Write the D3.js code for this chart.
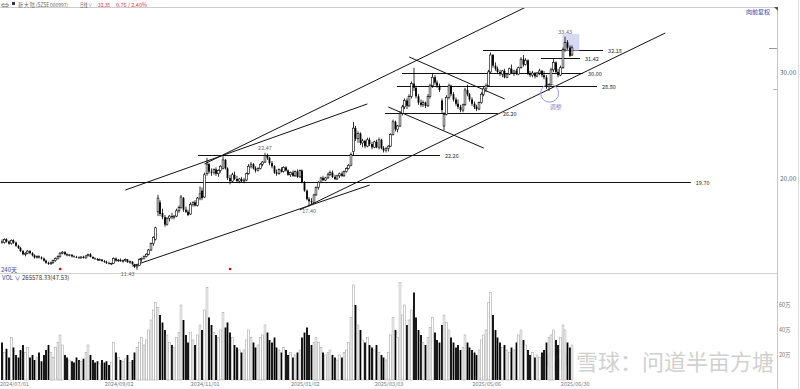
<!DOCTYPE html>
<html><head><meta charset="utf-8">
<script src="https://cdn.jsdelivr.net/npm/d3@7"></script>
<style>
body{margin:0;background:#fff;}
svg{display:block;font-family:"Noto Sans CJK SC","Noto Sans",sans-serif;}
</style></head>
<body><svg id="c" width="800" height="389"></svg>
<script>
// ---- data ----
const ohlc = [
[14.1,14.3,13.9,14.0],[14.0,14.4,13.9,14.3],[14.3,14.4,14.0,14.1],[14.1,14.2,13.8,13.9],[13.9,14.3,13.8,14.2],
[14.2,14.3,13.9,14.0],[14.0,14.1,13.6,13.7],[13.7,13.8,13.4,13.5],[13.5,13.6,13.1,13.2],[13.2,13.3,12.8,12.9],
[12.9,13.1,12.7,13.0],[13.0,13.3,12.9,13.2],[13.2,13.3,12.9,13.0],[13.0,13.1,12.7,12.8],[12.8,12.9,12.5,12.6],
[12.6,12.8,12.5,12.7],[12.7,12.8,12.5,12.6],[12.6,12.7,12.4,12.5],[12.5,12.6,12.2,12.3],[12.3,12.4,12.0,12.1],
[12.1,12.2,11.9,12.0],[12.0,12.2,11.9,12.1],[12.1,12.4,12.0,12.3],[12.3,12.6,12.2,12.5],[12.5,12.8,12.4,12.7],
[12.7,13.1,12.6,13.0],[13.0,13.2,12.9,13.1],[13.1,13.2,12.8,12.9],[12.9,13.0,12.7,12.8],[12.8,12.9,12.7,12.85],
[12.85,12.9,12.6,12.7],[12.7,12.8,12.6,12.65],[12.65,12.75,12.55,12.6],[12.6,12.7,12.5,12.55],[12.55,12.7,12.5,12.65],
[12.65,12.75,12.5,12.55],[12.55,12.8,12.5,12.75],[12.75,12.95,12.7,12.9],[12.9,13.0,12.6,12.65],[12.65,12.7,12.45,12.5],
[12.5,12.6,12.4,12.45],[12.45,12.55,12.3,12.35],[12.35,12.5,12.3,12.4],[12.4,12.45,12.2,12.25],[12.25,12.35,12.1,12.15],
[12.15,12.3,12.0,12.05],[12.05,12.2,11.95,12.0],[12.0,12.1,11.9,12.05],[12.05,12.6,12.0,12.5],[12.5,12.6,12.2,12.3],
[12.3,12.45,12.2,12.35],[12.35,12.5,12.2,12.25],[12.25,12.4,12.1,12.3],[12.3,12.5,12.2,12.4],[12.4,12.45,12.1,12.15],
[12.15,12.3,12.0,12.2],[12.2,12.25,11.9,11.95],[11.95,12.0,11.6,11.7],[11.7,11.9,11.43,11.85],[11.85,12.5,11.8,12.4],
[12.4,12.6,12.2,12.5],[12.5,12.8,12.4,12.7],[12.7,13.0,12.6,12.9],[12.9,13.4,12.8,13.3],[13.3,14.0,13.2,13.9],
[13.9,14.6,13.7,14.5],[14.3,15.5,14.2,15.4],[16.9,18.5,16.5,18.2],[17.8,18.0,16.5,16.7],[16.8,17.2,16.2,16.4],
[16.4,16.6,15.5,15.7],[15.7,16.4,15.6,16.3],[16.3,16.6,16.0,16.5],[16.5,16.8,16.2,16.4],[16.4,16.6,16.2,16.5],
[16.5,17.2,16.4,17.0],[17.0,17.5,16.8,17.3],[17.3,18.5,17.2,18.3],[18.2,18.3,16.9,17.1],[17.1,17.4,16.8,16.9],
[16.9,17.1,16.5,16.6],[16.7,17.8,16.6,17.6],[17.6,17.9,17.4,17.8],[17.8,18.0,17.4,17.5],[17.5,18.3,17.4,18.2],
[18.2,19.3,18.0,18.6],[18.9,19.2,18.0,18.2],[18.3,20.6,18.2,20.4],[20.5,22.0,20.3,21.4],[21.4,21.5,20.5,20.7],
[20.7,21.0,20.3,20.6],[20.6,21.0,20.4,20.9],[20.9,21.1,20.3,20.5],[20.5,20.9,20.2,20.8],[20.8,21.3,20.6,21.2],
[21.0,22.2,20.9,21.8],[21.8,21.9,20.9,21.0],[21.0,21.1,19.9,20.1],[20.1,20.4,19.5,19.8],[19.8,20.6,19.7,20.4],
[20.4,20.7,19.9,20.0],[20.0,20.3,19.7,19.8],[19.8,20.1,19.6,20.0],[20.0,20.2,19.7,19.8],[19.8,20.1,19.6,19.9],
[19.9,20.6,19.8,20.5],[20.5,21.4,20.4,21.2],[21.2,21.6,21.0,21.4],[21.4,21.5,20.9,21.0],[21.0,21.2,20.6,20.8],
[20.8,21.1,20.7,21.0],[21.0,21.5,20.9,21.4],[21.4,21.7,21.2,21.6],[21.6,22.47,21.5,22.2],[22.2,22.4,21.8,22.0],
[22.0,22.1,21.3,21.5],[21.5,21.7,21.0,21.2],[21.2,21.3,20.5,20.6],[20.6,20.9,20.3,20.5],[20.5,21.0,20.4,20.9],
[20.9,21.1,20.6,20.7],[20.7,21.2,20.6,21.1],[21.1,21.2,20.7,20.8],[20.8,20.9,20.3,20.4],[20.4,20.7,20.2,20.6],
[20.6,20.8,20.2,20.3],[20.3,20.8,20.2,20.7],[20.7,20.9,20.1,20.2],[20.2,20.9,20.1,20.8],[20.8,20.9,19.6,19.7],
[19.7,19.8,18.8,18.9],[18.9,19.0,18.0,18.1],[18.1,18.3,17.40,17.9],[17.9,18.2,17.6,17.8],[17.8,18.6,17.7,18.5],
[18.5,19.3,18.4,19.2],[19.2,19.8,19.0,19.7],[19.7,20.2,19.6,20.1],[20.1,20.3,19.8,19.9],[19.9,20.2,19.8,20.1],
[20.1,20.6,20.0,20.4],[20.4,20.8,20.3,20.6],[20.6,20.8,20.1,20.2],[20.2,20.4,19.9,20.0],[20.0,20.4,19.9,20.3],
[20.3,20.6,20.1,20.5],[20.5,20.7,20.2,20.3],[20.3,20.8,20.2,20.7],[20.7,21.1,20.6,21.0],[21.0,21.4,20.9,21.3],
[21.3,22.5,21.2,22.3],[22.6,25.4,22.2,24.8],[24.8,25.0,23.6,23.8],[23.8,24.5,23.4,24.3],[24.3,24.4,23.2,23.4],
[23.4,23.8,23.0,23.6],[23.6,23.7,22.9,23.1],[23.1,23.9,23.0,23.7],[23.7,23.9,23.1,23.3],[23.3,23.5,22.8,23.0],
[23.0,23.6,22.9,23.5],[23.5,23.7,22.9,23.0],[23.0,23.9,22.8,23.7],[23.7,23.8,22.8,22.9],[22.9,23.1,22.5,22.7],
[22.7,23.0,22.5,22.9],[22.9,23.2,22.6,23.1],[23.1,24.3,23.0,24.2],[24.2,25.6,24.1,25.4],[25.4,25.5,24.5,24.7],
[24.7,25.1,24.4,25.0],[25.0,26.4,24.9,26.2],[26.2,27.0,26.0,26.8],[26.8,27.6,26.6,27.4],[27.4,27.6,26.6,26.9],
[26.9,28.0,26.8,27.8],[27.8,29.2,27.6,29.0],[29.0,30.5,28.3,28.6],[28.6,28.8,27.6,27.8],[27.8,28.0,27.0,27.2],
[27.2,27.5,26.8,27.0],[27.0,27.4,26.8,27.2],[27.2,27.3,26.7,26.9],[26.9,28.0,26.8,27.8],[27.8,29.0,27.6,28.8],
[28.8,30.0,28.6,29.6],[29.6,29.8,28.9,29.1],[29.1,29.3,28.6,28.8],[28.8,29.0,28.2,28.4],[27.4,27.6,26.2,26.5],
[25.0,26.3,24.6,26.1],[26.1,27.9,26.0,27.7],[27.7,29.0,27.5,28.8],[28.8,28.9,27.8,28.0],[28.0,28.2,27.3,27.5],
[27.5,27.7,26.9,27.1],[27.1,27.5,26.6,26.8],[26.8,27.0,26.3,26.5],[26.5,27.1,26.3,27.0],[27.0,28.6,26.9,28.4],
[28.4,28.9,27.8,28.0],[28.0,28.1,27.3,27.5],[27.5,27.7,26.9,27.1],[27.1,27.3,26.6,26.8],[26.8,27.0,26.4,26.6],
[26.6,27.3,26.5,27.2],[27.2,28.2,27.1,28.0],[28.0,28.7,27.8,28.5],[28.5,29.0,28.2,28.8],[28.8,30.3,28.7,30.1],
[30.1,31.95,30.0,31.7],[31.7,31.8,30.5,30.7],[30.7,31.0,30.2,30.4],[30.4,30.6,29.9,30.1],[30.1,30.3,29.7,29.9],
[29.9,30.3,29.6,30.2],[30.2,30.4,29.5,29.6],[29.6,30.0,29.5,29.9],[29.9,30.5,29.8,30.4],[30.4,30.8,29.9,30.0],
[30.0,30.3,29.7,30.2],[30.2,30.4,29.8,29.9],[29.9,30.6,29.8,30.5],[30.5,31.5,30.4,31.3],[31.3,31.7,30.6,30.8],
[30.8,31.4,30.7,31.2],[31.2,31.3,29.8,30.0],[30.0,30.2,29.6,29.8],[29.8,30.2,29.6,30.0],[30.0,30.1,29.5,29.7],
[29.7,30.1,29.6,30.0],[30.0,30.4,29.8,30.2],[30.2,30.3,29.6,29.8],[29.8,30.2,29.4,29.6],[29.6,29.8,28.5,28.7],
[28.7,29.0,28.3,28.9],[28.9,30.5,28.8,30.3],[30.3,31.3,30.1,31.0],[31.0,31.1,29.9,30.1],[30.1,30.4,29.6,29.8],
[29.8,30.7,29.7,30.5],[30.5,32.4,30.4,32.2],[32.2,33.43,32.0,32.9],[32.9,33.1,32.2,32.4],[32.4,32.6,31.5,31.62],
[31.7,32.6,31.6,32.38]
];
const volume = [ // 万股
30,22,25,18,34,26,20,18,24,28, 22,26,18,20,16,18,22,15,20,24,
28,22,18,26,30,36,28,20,18,16, 15,14,18,16,15,17,22,28,20,16,
14,15,13,16,14,15,12,14,30,22, 18,16,15,17,20,14,16,22,26,30,
34,28,32,40,48,56,62,58,52,46, 40,36,30,28,26,34,38,60,48,36,
30,38,32,28,36,44,40,56,74,50, 44,38,36,34,40,54,42,46,38,34,
28,26,24,22,24,32,40,34,30,26, 28,34,36,44,38,32,30,34,26,24,
22,26,24,20,22,18,20,22,24,34, 38,42,36,28,30,34,30,26,22,20,
22,24,20,18,16,20,18,22,24,30, 50,76,60,44,40,32,30,34,28,26,
24,28,22,20,18,16,22,36,50,40, 34,78,52,60,44,48,56,70,50,40,
36,30,28,34,42,50,38,32,30,44, 52,46,40,34,30,26,28,24,26,36,
30,26,24,22,20,24,32,36,40,62, 70,52,40,34,30,26,28,24,22,26,
24,30,36,40,32,28,24,20,22,18, 20,18,22,24,30,34,36,40,32,28,
34,44,40,30,26,28
];
const dateLabels = ["2024/07/01","2024/09/02","2024/11/01","2025/01/02","2025/03/03","2025/05/06","2025/06/30"];
const dateLabelIdx = [0,45,82,125,161,203,241];
const priceTicks = [20,30];
const volTicks = [20,40,60];
const levelValues = [19.70,22.26,26.20,28.80,30.00,31.42,32.18];
const levelLabels = ["19.70","22.26","26.20","28.80","30.00","31.42","32.18"];
const levelFromIdx = [-1,84.2,164.6,169.7,171.9,231.6,206.7];
const levelToIdx   = [296,188.2,213.1,255.7,249.7,248.4,258.3];
// trend lines: [idx0, price0, idx1, price1]
const trendLines = [
  [53, 18.96, 157, 27.08],
  [87, 21.42, 227, 36.42],
  [56, 11.79, 158, 19.43],
  [128, 17.08, 285, 33.77],
  [175, 31.51, 216, 27.55],
  [166, 26.79, 207, 22.92]
];
const markLabels = ["11.43","17.40","22.47","33.43"];
const markIdx = [54,132,113,242];
const markPrice = [11.43,17.40,22.47,33.43];

// ---- drawing ----
const svg = d3.select("#c");
const n = ohlc.length;
const x = d3.scaleBand().domain(d3.range(n)).range([0.84, 573.3]);
const px = i => x(0) + x.bandwidth()/2 + i*x.step();   // continuous index -> pixel
const y = d3.scaleLinear().domain([20,30]).range([179,73]);
const yv = d3.scaleLinear().domain([0,60]).range([380,305]);
const axisX = 777;

// frame
svg.append("line").attr("x1",0).attr("x2",777).attr("y1",7.5).attr("y2",7.5).attr("stroke","#ccc");
svg.append("line").attr("x1",axisX+0.5).attr("x2",axisX+0.5).attr("y1",7).attr("y2",389).attr("stroke","#c8c8c8");
svg.append("line").attr("x1",798.5).attr("x2",798.5).attr("y1",0).attr("y2",389).attr("stroke","#ddd");
svg.append("line").attr("x1",0).attr("x2",777).attr("y1",273.5).attr("y2",273.5).attr("stroke","#d0d0d0");
svg.append("path").attr("d","M774,7 L778,7 L778,11 Z").attr("fill","#555");

// price axis labels
priceTicks.forEach(t=>{
  svg.append("text").attr("x",780).attr("y",y(t)+2.2).attr("font-size",6.5).attr("fill","#666").text(t.toFixed(2));
});
svg.append("line").attr("x1",769).attr("x2",777).attr("y1",48.5).attr("y2",48.5).attr("stroke","#999");
svg.append("line").attr("x1",773).attr("x2",777).attr("y1",89.5).attr("y2",89.5).attr("stroke","#bbb");

// volume axis
volTicks.forEach(t=>{
  svg.append("text").attr("x",779).attr("y",yv(t)+2).attr("font-size",5.5).attr("fill","#777").text(t+"万");
});

// watermark
const wm = svg.append("g");
wm.append("circle").attr("cx",557).attr("cy",360).attr("r",11).attr("fill","#d6d6d6");
wm.append("path").attr("d","M549,364 Q553,352 565,355 Q556,357 552,366 Z").attr("fill","#fff");
wm.append("text").attr("x",576).attr("y",370).attr("font-size",22).attr("font-family","Noto Sans CJK SC").attr("fill","#d0d0d0")
  .attr("textLength",198).attr("lengthAdjust","spacingAndGlyphs").text("雪球：问道半亩方塘");

// level lines
const lv = svg.append("g");
levelValues.forEach((v,k)=>{
  const yy = Math.round(y(v))+0.5;
  lv.append("line").attr("x1",px(levelFromIdx[k])).attr("x2",px(levelToIdx[k]))
    .attr("y1",yy).attr("y2",yy).attr("stroke","#111").attr("stroke-width",1);
  lv.append("text").attr("x",px(levelToIdx[k])+5).attr("y",yy+2).attr("font-size",5.5).attr("fill","#222").text(levelLabels[k]);
});

// trend lines
svg.append("clipPath").attr("id","plotclip").append("rect").attr("x",0).attr("y",8).attr("width",777).attr("height",265);
const tl = svg.append("g").attr("clip-path","url(#plotclip)");
trendLines.forEach(d=>{
  tl.append("line").attr("x1",px(d[0])).attr("y1",y(d[1]))
    .attr("x2",px(d[2])).attr("y2",y(d[3]))
    .attr("stroke","#111").attr("stroke-width",1);
});

// highlight rect near top
svg.append("rect").attr("x",px(240.8)).attr("y",y(33.7)).attr("width",x.step()*7.3).attr("height",y(32.1)-y(33.7))
  .attr("fill","#c8c8ee").attr("opacity",0.7);
// circle
svg.append("ellipse").attr("cx",px(235.3)).attr("cy",y(28.1)).attr("rx",9).attr("ry",9)
  .attr("fill","none").attr("stroke","#9b9be0").attr("stroke-width",1);
svg.append("text").attr("x",px(238)).attr("y",y(26.6)).attr("font-size",6).attr("fill","#8888cc").attr("text-anchor","middle").text("调整");

// candles
const cg = svg.append("g");
ohlc.forEach((d,i)=>{
  const [o,h,l,c] = d;
  const up = c >= o;
  const xc = Math.round(px(i)*2)/2;
  cg.append("line").attr("x1",xc).attr("x2",xc).attr("y1",y(h)).attr("y2",y(l)).attr("stroke","#000").attr("stroke-width",0.8);
  const top = y(Math.max(o,c)), bot = y(Math.min(o,c));
  cg.append("rect").attr("x",xc-0.9).attr("width",1.8).attr("y",top).attr("height",Math.max(0.8,bot-top))
    .attr("fill", up ? "#fff" : "#000").attr("stroke","#000").attr("stroke-width", up?0.6:0);
});

// mark labels
markLabels.forEach((t,k)=>{
  const below = markPrice[k] < 20;
  svg.append("text").attr("x",px(markIdx[k])).attr("y", below ? y(markPrice[k])+6 : y(markPrice[k])-3)
    .attr("font-size",5.5).attr("fill","#666").attr("text-anchor","middle").text(t);
});

// red dots
[25,98].forEach(i=>{
  svg.append("circle").attr("cx",px(i)).attr("cy",269).attr("r",1.3).attr("fill","#e00");
});

// volume bars
const vg = svg.append("g");
volume.forEach((v,i)=>{
  const [o,,,c] = ohlc[i];
  const up = c >= o;
  const xc = Math.round(px(i)*2)/2;
  vg.append("rect").attr("x",xc-0.9).attr("width",1.8).attr("y",yv(v)).attr("height",yv(0)-yv(v))
    .attr("fill", up ? "#fff" : "#000").attr("stroke", up ? "#aaa" : "none").attr("stroke-width",0.6);
});

// date labels
dateLabels.forEach((t,k)=>{
  svg.append("text").attr("x",px(dateLabelIdx[k])-2).attr("y",386).attr("font-size",5.5).attr("fill","#777").text(t);
});

// header
const hd = svg.append("g").attr("font-size",5.5);
hd.append("text").attr("x",0.5).attr("y",6.5).attr("fill","#666").attr("textLength",9).attr("lengthAdjust","spacingAndGlyphs").text("⇔");
hd.append("rect").attr("x",12).attr("y",2).attr("width",3).attr("height",3).attr("fill","#335");
hd.append("text").attr("x",18).attr("y",6.5).attr("fill","#666").attr("textLength",50).attr("lengthAdjust","spacingAndGlyphs").text("新 大 陆 (SZSE 000997)");
hd.append("text").attr("x",80).attr("y",6.5).attr("fill","#666").attr("textLength",12).attr("lengthAdjust","spacingAndGlyphs").text("日线 ∨");
hd.append("text").attr("x",98).attr("y",6.5).attr("fill","#e33").attr("textLength",12).attr("lengthAdjust","spacingAndGlyphs").text("32.38");
hd.append("text").attr("x",116).attr("y",6.5).attr("fill","#e33").attr("textLength",31).attr("lengthAdjust","spacingAndGlyphs").text("0.76 / 2.40%");
svg.append("text").attr("x",746).attr("y",14).attr("font-size",6).attr("fill","#3344aa").text("向前复权");
svg.append("text").attr("x",1).attr("y",272).attr("font-size",6).attr("fill","#3344aa").text("240天");
svg.append("text").attr("x",2).attr("y",280).attr("font-size",6).attr("fill","#3344aa").text("VOL ∨");
svg.append("text").attr("x",22).attr("y",280).attr("font-size",6).attr("fill","#333").text("265578.33(47.53)");
</script></body></html>
